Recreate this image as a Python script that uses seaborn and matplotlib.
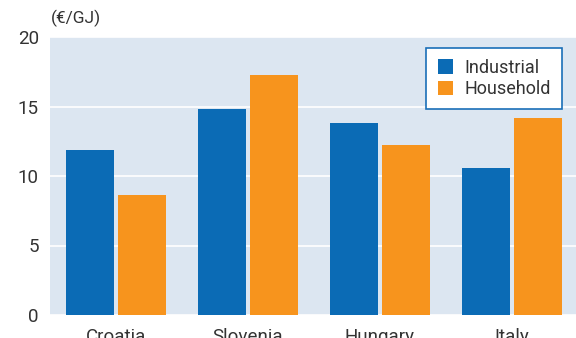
import matplotlib
matplotlib.use("Agg")
import matplotlib.pyplot as plt
import matplotlib.transforms as mtrans
import seaborn as sns
import pandas as pd

countries = ["Croatia", "Slovenia", "Hungary", "Italy"]
industrial = [11.9, 14.8, 13.8, 10.6]
household = [8.6, 17.3, 12.2, 14.2]
series_names = ["Industrial", "Household"]
yticks = [0, 5, 10, 15, 20]
unit_label = "(€/GJ)"

df = pd.DataFrame({
    "country": countries * 2,
    "value": industrial + household,
    "series": [series_names[0]] * 4 + [series_names[1]] * 4,
})

sns.set_theme(style="white")
plt.rcParams["font.family"] = ["Roboto", "DejaVu Sans"]

fig = plt.figure(figsize=(5.76, 3.38), dpi=100)
ax = fig.add_axes([50 / 576, 1 - 315 / 338, 528 / 576, 278 / 338])
ax.set_facecolor("#DCE6F1")

sns.barplot(data=df, x="country", y="value", hue="series",
            palette=["#0B6BB5", "#F7941D"], width=0.8, gap=0.09,
            saturation=1, ax=ax, zorder=3, linewidth=0, edgecolor="none")

ax.set_ylim(0, 20)
ax.set_xlim(-0.5, 3.5)
ax.set_yticks(yticks)
ax.set_yticklabels([str(t) for t in yticks], fontsize=13.5, color="#333333")
off = mtrans.ScaledTranslation(0, -4 / 100, fig.dpi_scale_trans)
for t in ax.get_yticklabels():
    t.set_transform(t.get_transform() + off)
ax.tick_params(axis="y", length=0, pad=8)
ax.tick_params(axis="x", length=0, pad=9, labelsize=13.5, labelcolor="#333333")
ax.set_xlabel("")
ax.set_ylabel("")
ax.grid(axis="y", color="white", linewidth=1.2, zorder=1)
ax.set_axisbelow(True)
for s in ax.spines.values():
    s.set_visible(False)

ax.text(0.002, 1.035, unit_label, transform=ax.transAxes, fontsize=12.5,
        color="#333333", ha="left", va="bottom")

leg = ax.legend(loc="upper right", bbox_to_anchor=(0.97, 0.962), frameon=True,
                fancybox=False, fontsize=13, handlelength=0.85, handleheight=0.85,
                borderpad=0.62, labelspacing=0.18, handletextpad=0.65,
                borderaxespad=0)
leg.get_frame().set_edgecolor("#1A6FB8")
leg.get_frame().set_linewidth(1.2)
leg.get_frame().set_facecolor("white")
leg.get_frame().set_alpha(1)
for t in leg.get_texts():
    t.set_color("#333333")

fig.savefig("out.png", dpi=100)
